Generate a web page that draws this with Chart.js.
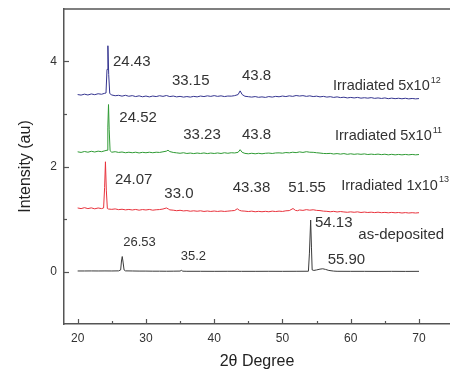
<!DOCTYPE html>
<html>
<head>
<meta charset="utf-8">
<script src="https://cdn.jsdelivr.net/npm/chart.js@4.4.0/dist/chart.umd.min.js"></script>
<style>
  html, body { margin: 0; padding: 0; background: #fff; }
  #wrap { width: 450px; height: 371px; }
</style>
</head>
<body>
<div id="wrap"><canvas id="xrd" width="450" height="371"></canvas></div>
<script>
// Barridos XRD: pares [2θ, intensidad]
const scan5e12 = [
  [20,3.37],[20.5,3.36],[21,3.378],[21.5,3.362],[22,3.382],[22.5,3.368],[23,3.386],[23.5,3.376],[23.9,3.392],
  [24.15,3.40],[24.3,3.85],[24.43,4.30],[24.55,3.75],[24.7,3.39],[25,3.362],[25.5,3.348],[26,3.356],[26.5,3.34],
  [27,3.356],[27.5,3.338],[28,3.35],[28.5,3.332],[29,3.346],[29.5,3.328],[30,3.342],[30.5,3.326],[31,3.342],
  [31.5,3.332],[32,3.348],[32.5,3.336],[33,3.352],[33.5,3.332],[34,3.342],[34.5,3.326],[35,3.336],[35.5,3.322],
  [36,3.332],[36.5,3.322],[37,3.336],[37.5,3.326],[38,3.342],[38.5,3.332],[39,3.346],[39.5,3.336],[40,3.35],
  [40.5,3.336],[41,3.346],[41.5,3.332],[42,3.342],[42.5,3.34],[43,3.35],[43.5,3.37],[43.8,3.44],[44.1,3.37],
  [44.5,3.338],[45,3.33],[45.5,3.322],[46,3.332],[46.5,3.318],[47,3.326],[47.5,3.316],[48,3.332],[48.5,3.322],
  [49,3.336],[49.5,3.328],[50,3.342],[50.5,3.332],[51,3.346],[51.5,3.336],[52,3.352],[52.5,3.342],[53,3.35],
  [53.5,3.336],[54,3.346],[54.5,3.332],[55,3.34],[55.5,3.326],[56,3.336],[56.5,3.322],[57,3.33],[57.5,3.316],
  [58,3.326],[58.5,3.312],[59,3.32],[59.5,3.306],[60,3.316],[60.5,3.306],[61,3.316],[61.5,3.302],[62,3.31],
  [62.5,3.302],[63,3.312],[63.5,3.298],[64,3.306],[64.5,3.296],[65,3.306],[65.5,3.292],[66,3.302],[66.5,3.292],
  [67,3.3],[67.5,3.29],[68,3.3],[68.5,3.288],[69,3.296],[69.5,3.288],[70,3.294]
];

const scan5e11 = [
  [20,2.28],[20.5,2.268],[21,2.286],[21.5,2.272],[22,2.29],[22.5,2.276],[23,2.292],[23.5,2.282],[24,2.30],
  [24.3,2.31],[24.42,2.75],[24.52,3.18],[24.62,2.70],[24.75,2.30],[25,2.272],[25.5,2.282],[26,2.268],[26.5,2.276],
  [27,2.262],[27.5,2.272],[28,2.262],[28.5,2.272],[29,2.258],[29.5,2.27],[30,2.262],[30.5,2.272],[31,2.262],
  [31.5,2.272],[32,2.268],[32.5,2.28],[33,2.292],[33.23,2.31],[33.5,2.284],[34,2.268],[34.5,2.26],[35,2.252],
  [35.5,2.262],[36,2.248],[36.5,2.256],[37,2.246],[37.5,2.256],[38,2.248],[38.5,2.258],[39,2.246],[39.5,2.256],
  [40,2.248],[40.5,2.258],[41,2.248],[41.5,2.262],[42,2.252],[42.5,2.262],[43,2.258],[43.5,2.27],[43.8,2.32],
  [44.1,2.27],[44.5,2.25],[45,2.242],[45.5,2.252],[46,2.242],[46.5,2.252],[47,2.242],[47.5,2.252],[48,2.256],
  [48.5,2.248],[49,2.258],[49.5,2.26],[50,2.254],[50.5,2.266],[51,2.26],[51.5,2.272],[52,2.264],[52.5,2.278],
  [53,2.268],[53.5,2.282],[54,2.272],[54.5,2.27],[55,2.262],[55.5,2.256],[56,2.248],[56.5,2.246],[57,2.25],
  [57.5,2.238],[58,2.246],[58.5,2.236],[59,2.246],[59.5,2.232],[60,2.242],[60.5,2.232],[61,2.24],[61.5,2.232],
  [62,2.24],[62.5,2.228],[63,2.236],[63.5,2.228],[64,2.236],[64.5,2.226],[65,2.234],[65.5,2.222],[66,2.232],
  [66.5,2.222],[67,2.23],[67.5,2.222],[68,2.23],[68.5,2.222],[69,2.23],[69.5,2.222],[70,2.228]
];

const scan1e13 = [
  [20,1.21],[20.5,1.198],[21,1.216],[21.5,1.198],[22,1.212],[22.5,1.194],[23,1.21],[23.5,1.198],[23.8,1.21],
  [23.95,1.60],[24.07,2.09],[24.2,1.55],[24.35,1.20],[24.5,1.19],[25,1.184],[25.5,1.192],[26,1.178],[26.5,1.186],
  [27,1.174],[27.5,1.182],[28,1.172],[28.5,1.182],[29,1.168],[29.5,1.18],[30,1.172],[30.5,1.182],[31,1.168],
  [31.5,1.176],[32,1.18],[32.5,1.19],[33,1.21],[33.3,1.19],[33.5,1.174],[34,1.168],[34.5,1.158],[35,1.166],
  [35.5,1.154],[36,1.16],[36.5,1.148],[37,1.156],[37.5,1.148],[38,1.156],[38.5,1.144],[39,1.152],[39.5,1.144],
  [40,1.152],[40.5,1.144],[41,1.152],[41.5,1.144],[42,1.15],[42.5,1.156],[43,1.162],[43.38,1.195],[43.7,1.165],
  [44,1.154],[44.5,1.15],[45,1.142],[45.5,1.15],[46,1.138],[46.5,1.146],[47,1.138],[47.5,1.146],[48,1.138],
  [48.5,1.15],[49,1.142],[49.5,1.15],[50,1.144],[50.5,1.156],[51,1.16],[51.55,1.20],[51.9,1.164],[52.2,1.158],
  [52.5,1.172],[53,1.164],[53.5,1.178],[54,1.168],[54.5,1.176],[55,1.164],[55.5,1.16],[56,1.15],[56.5,1.146],
  [57,1.138],[57.5,1.146],[58,1.134],[58.5,1.142],[59,1.134],[59.5,1.128],[60,1.136],[60.5,1.128],[61,1.136],
  [61.5,1.124],[62,1.132],[62.5,1.124],[63,1.13],[63.5,1.122],[64,1.13],[64.5,1.12],[65,1.126],[65.5,1.118],
  [66,1.126],[66.5,1.118],[67,1.124],[67.5,1.114],[68,1.122],[68.5,1.114],[69,1.12],[69.5,1.114],[70,1.12]
];

const scanDeposited = [
  [20,0.01],[21,0.01],[22,0.011],[23,0.01],[24,0.011],[25,0.01],[26,0.012],[26.3,0.03],[26.42,0.20],
  [26.53,0.285],[26.65,0.18],[26.8,0.03],[27,0.012],[28,0.01],[29,0.008],[30,0.008],[31,0.006],[32,0.006],
  [33,0.005],[34,0.006],[35,0.008],[35.2,0.022],[35.4,0.006],[36,0.004],[38,0.004],[40,0.003],[42,0.004],
  [44,0.003],[46,0.003],[48,0.004],[50,0.003],[52,0.004],[53.8,0.005],[53.95,0.35],[54.13,0.98],[54.25,0.45],
  [54.35,0.03],[54.6,0.02],[55,0.03],[55.5,0.045],[55.9,0.052],[56.3,0.04],[56.8,0.02],[57.5,0.008],[58,0.004],
  [60,0.003],[62,0.003],[64,0.002],[66,0.003],[68,0.002],[70,0.003]
];

// Ejes
const xMajorTicks = [20, 30, 40, 50, 60, 70];
const xMinorTicks = [25, 35, 45, 55, 65];
const yMajorTicks = [0, 2, 4];
const yMinorTicks = [1, 3];

// Etiquetas de picos: [texto, 2θ, intensidad]
const peakLabels = [
  ['24.43', 25.17, 4.00], ['33.15', 33.81, 3.64], ['43.8', 44.07, 3.72],
  ['24.52', 26.10, 2.93], ['33.23', 35.47, 2.61], ['43.8', 44.07, 2.61],
  ['24.07', 25.46, 1.74], ['33.0', 32.69, 1.48], ['43.38', 42.71, 1.59], ['51.55', 50.86, 1.59],
  ['54.13', 54.76, 0.92], ['55.90', 56.62, 0.22]
];
const smallPeakLabels = [
  ['26.53', 26.68, 0.56], ['35.2', 35.09, 0.28]
];
// Nombre de cada muestra: [texto, exponente, 2θ, intensidad]
const sampleLabels = [
  ['Irradiated 5x10', '12', 57.40, 3.53],
  ['Irradiated 5x10', '11', 57.69, 2.58],
  ['Irradiated 1x10', '13', 58.60, 1.63],
  ['as-deposited', '', 61.11, 0.70]
];

const FONT = '"Liberation Sans", Arial, sans-serif';
const AXIS_COLOR = '#555';

const toPoints = scan => scan.map(p => ({ x: p[0], y: p[1] }));

// Plugin: borde superior, ticks hacia adentro y anotaciones
const decorPlugin = {
  id: 'decor',
  afterDraw(chart) {
    const { ctx, chartArea, scales: { x, y } } = chart;
    ctx.save();
    ctx.strokeStyle = AXIS_COLOR;
    ctx.lineWidth = 1.5;
    ctx.beginPath();
    ctx.moveTo(chartArea.left, chartArea.top);
    ctx.lineTo(chartArea.right, chartArea.top);
    ctx.stroke();

    ctx.lineWidth = 1.2;
    const tickX = (vals, len) => vals.forEach(v => {
      const px = Math.round(x.getPixelForValue(v)) + 0.5;
      ctx.beginPath();
      ctx.moveTo(px, chartArea.bottom);
      ctx.lineTo(px, chartArea.bottom - len);
      ctx.stroke();
    });
    const tickY = (vals, len) => vals.forEach(v => {
      const py = Math.round(y.getPixelForValue(v)) + 0.5;
      ctx.beginPath();
      ctx.moveTo(chartArea.left, py);
      ctx.lineTo(chartArea.left + len, py);
      ctx.stroke();
    });
    tickX(xMajorTicks, 5); tickX(xMinorTicks, 3);
    tickY(yMajorTicks, 5); tickY(yMinorTicks, 3);

    ctx.fillStyle = '#333';
    ctx.textAlign = 'left';
    ctx.textBaseline = 'middle';
    ctx.font = '15px ' + FONT;
    peakLabels.forEach(([t, a, b]) => ctx.fillText(t, x.getPixelForValue(a), y.getPixelForValue(b)));
    ctx.font = '13px ' + FONT;
    smallPeakLabels.forEach(([t, a, b]) => ctx.fillText(t, x.getPixelForValue(a), y.getPixelForValue(b)));

    sampleLabels.forEach(([t, sup, a, b]) => {
      const px = x.getPixelForValue(a);
      const py = y.getPixelForValue(b);
      ctx.font = (sup ? '14.5px ' : '15px ') + FONT;
      ctx.fillText(t, px, py);
      if (sup) {
        const w = ctx.measureText(t).width;
        ctx.font = '9px ' + FONT;
        ctx.fillText(sup, px + w + 1, py - 6);
      }
    });
    ctx.restore();
  }
};

new Chart(document.getElementById('xrd'), {
  type: 'line',
  data: {
    datasets: [
      { label: 'as-deposited', data: toPoints(scanDeposited), borderColor: '#3a3a3a' },
      { label: 'Irradiated 1x10^13', data: toPoints(scan1e13), borderColor: '#e8323c' },
      { label: 'Irradiated 5x10^11', data: toPoints(scan5e11), borderColor: '#2f9a34' },
      { label: 'Irradiated 5x10^12', data: toPoints(scan5e12), borderColor: '#34348f' }
    ]
  },
  options: {
    responsive: false,
    animation: false,
    devicePixelRatio: 1,
    datasets: { line: { borderWidth: 1, pointRadius: 0, tension: 0, fill: false } },
    layout: { padding: { top: 9, right: 0, bottom: 0, left: 16 } },
    plugins: { legend: { display: false }, tooltip: { enabled: false } },
    scales: {
      x: {
        type: 'linear',
        min: 18,
        max: 74.54,
        afterBuildTicks: axis => { axis.ticks = xMajorTicks.map(v => ({ value: v })); },
        afterFit: axis => { axis.height = 47; axis.paddingLeft = 0; axis.paddingRight = 0; },
        grid: { display: false, drawTicks: false },
        border: { display: true, color: AXIS_COLOR, width: 1.5 },
        ticks: { padding: 7, color: '#333', font: { family: FONT, size: 12 }, maxRotation: 0 },
        title: { display: true, text: '2θ Degree', color: '#222', font: { family: FONT, size: 16 }, padding: 0 }
      },
      y: {
        min: -1,
        max: 5,
        afterBuildTicks: axis => { axis.ticks = yMajorTicks.map(v => ({ value: v })); },
        afterFit: axis => { axis.width = 48; axis.paddingTop = 0; axis.paddingBottom = 0; },
        grid: { display: false, drawTicks: false },
        border: { display: true, color: AXIS_COLOR, width: 1.5 },
        ticks: { padding: 7, color: '#333', font: { family: FONT, size: 12 } },
        title: { display: true, text: 'Intensity (au)', color: '#222', font: { family: FONT, size: 16 }, padding: 0 }
      }
    }
  },
  plugins: [decorPlugin]
});
</script>
</body>
</html>
